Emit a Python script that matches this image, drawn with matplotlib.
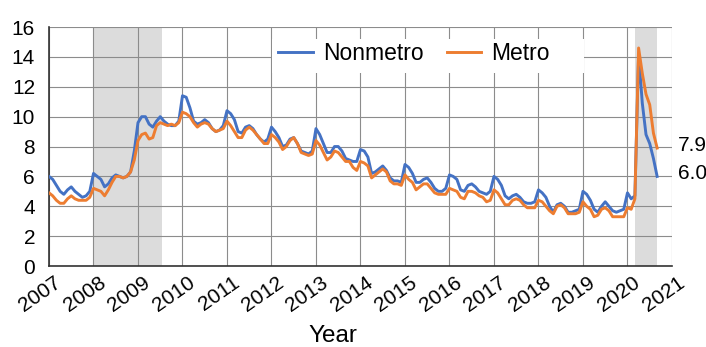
import numpy as np
import matplotlib.pyplot as plt
import matplotlib.transforms as mtransforms
from matplotlib.patches import Rectangle

plt.rcParams['font.family'] = ['Liberation Sans', 'DejaVu Sans']

# Monthly unemployment rates (%), Jan 2007 - Sep 2020
nonmetro = [
    6.0, 5.8, 5.4, 5.0, 4.8, 5.1, 5.3, 5.0, 4.8, 4.6, 4.7, 5.0,   # 2007
    6.2, 6.0, 5.8, 5.3, 5.5, 5.9, 6.1, 6.0, 5.9, 6.0, 6.3, 7.7,   # 2008
    9.6, 10.0, 10.0, 9.5, 9.3, 9.7, 10.0, 9.7, 9.5, 9.4, 9.4, 9.7,  # 2009
    11.4, 11.3, 10.6, 9.7, 9.5, 9.6, 9.8, 9.6, 9.2, 9.0, 9.1, 9.4,  # 2010
    10.4, 10.2, 9.8, 9.0, 8.9, 9.3, 9.4, 9.2, 8.8, 8.5, 8.3, 8.5,  # 2011
    9.3, 9.0, 8.6, 8.0, 8.1, 8.5, 8.6, 8.2, 7.7, 7.6, 7.5, 7.7,   # 2012
    9.2, 8.8, 8.2, 7.6, 7.6, 8.0, 8.0, 7.7, 7.2, 7.1, 7.0, 7.0,   # 2013
    7.8, 7.7, 7.3, 6.2, 6.3, 6.5, 6.7, 6.4, 5.9, 5.7, 5.7, 5.6,   # 2014
    6.8, 6.6, 6.2, 5.6, 5.6, 5.8, 5.9, 5.6, 5.2, 5.0, 5.0, 5.2,   # 2015
    6.1, 6.0, 5.8, 5.1, 5.0, 5.4, 5.5, 5.3, 5.0, 4.9, 4.8, 5.0,   # 2016
    6.0, 5.8, 5.4, 4.7, 4.5, 4.7, 4.8, 4.6, 4.3, 4.2, 4.2, 4.3,   # 2017
    5.1, 4.9, 4.6, 4.0, 3.6, 4.1, 4.2, 4.0, 3.6, 3.6, 3.7, 3.8,   # 2018
    5.0, 4.8, 4.4, 3.8, 3.6, 4.0, 4.3, 4.0, 3.7, 3.6, 3.7, 3.8,   # 2019
    4.9, 4.5, 4.7, 14.2, 10.9, 8.8, 8.2, 7.2, 6.0,                # 2020
]
metro = [
    4.9, 4.7, 4.4, 4.2, 4.2, 4.5, 4.7, 4.5, 4.4, 4.4, 4.4, 4.6,   # 2007
    5.2, 5.1, 5.0, 4.7, 5.1, 5.6, 6.0, 6.0, 5.9, 6.0, 6.3, 7.1,   # 2008
    8.4, 8.8, 8.9, 8.5, 8.6, 9.4, 9.6, 9.5, 9.4, 9.5, 9.4, 9.6,   # 2009
    10.3, 10.2, 10.0, 9.6, 9.3, 9.5, 9.6, 9.5, 9.2, 9.0, 9.1, 9.2,  # 2010
    9.7, 9.4, 9.0, 8.6, 8.6, 9.1, 9.3, 9.1, 8.8, 8.5, 8.2, 8.2,   # 2011
    8.8, 8.6, 8.3, 7.8, 8.0, 8.4, 8.6, 8.2, 7.6, 7.5, 7.4, 7.5,   # 2012
    8.4, 8.1, 7.6, 7.1, 7.3, 7.7, 7.6, 7.3, 7.0, 7.0, 6.6, 6.4,   # 2013
    7.0, 6.9, 6.7, 5.9, 6.1, 6.3, 6.5, 6.3, 5.7, 5.5, 5.5, 5.4,   # 2014
    6.1, 5.8, 5.6, 5.1, 5.3, 5.5, 5.5, 5.2, 4.9, 4.8, 4.8, 4.8,   # 2015
    5.2, 5.1, 5.0, 4.6, 4.5, 5.0, 5.0, 4.9, 4.7, 4.6, 4.3, 4.4,   # 2016
    5.1, 4.9, 4.5, 4.1, 4.1, 4.4, 4.5, 4.4, 4.1, 3.9, 3.9, 3.9,   # 2017
    4.4, 4.3, 4.0, 3.7, 3.5, 4.0, 4.1, 3.9, 3.5, 3.5, 3.5, 3.6,   # 2018
    4.3, 4.0, 3.8, 3.3, 3.4, 3.8, 3.9, 3.7, 3.3, 3.3, 3.3, 3.3,   # 2019
    3.9, 3.8, 4.5, 14.6, 12.9, 11.5, 10.8, 8.9, 7.9,              # 2020
]
recessions = [(2008.0, 2009.54), (2020.17, 2020.667)]
years = list(range(2007, 2022))

t = 2007 + np.arange(len(nonmetro)) / 12.0

fig = plt.figure(figsize=(7.06, 3.47), dpi=100)
ax = fig.add_axes([0.0694, 0.2334, 0.8824, 0.6886])

for start, end in recessions:
    ax.axvspan(start, end, color='#dcdcdc', lw=0, zorder=0)

ax.plot(t, nonmetro, color='#4472C4', lw=2.1, label='Nonmetro', zorder=3)
ax.plot(t, metro, color='#ED7D31', lw=2.1, label='Metro', zorder=3)

ax.set_xlim(2007, 2021)
ax.set_ylim(0, 16)
ax.set_xticks(years)
ax.set_yticks(range(0, 17, 2))
ax.grid(True, color='#8c8c8c', lw=0.8, zorder=1)
ax.set_axisbelow(True)
for s in ['top', 'right']:
    ax.spines[s].set_visible(False)
for s in ['left', 'bottom']:
    ax.spines[s].set_color('#333333')
    ax.spines[s].set_linewidth(1.2)

ax.tick_params(axis='both', length=0, labelsize=15)
ax.tick_params(axis='y', pad=10)
ax.tick_params(axis='x', pad=5)
shift = mtransforms.ScaledTranslation(5 / 100, 0, fig.dpi_scale_trans)
for lab in ax.get_xticklabels():
    lab.set_rotation(35)
    lab.set_ha('right')
    lab.set_va('top')
    lab.set_rotation_mode('anchor')
    lab.set_transform(lab.get_transform() + shift)

fig.text(333 / 706, 0.5 / 347, 'Year', fontsize=17.5, ha='center', va='bottom')

for val in (metro[-1], nonmetro[-1]):
    ax.text(1.01, val + 0.2, f'{val:.1f}', transform=ax.get_yaxis_transform(),
            fontsize=15, va='center', ha='left', clip_on=False)

# white box behind legend (hides grid like the original)
ax.add_patch(Rectangle((0.358, 0.808), 0.501, 0.142, transform=ax.transAxes,
                       facecolor='white', edgecolor='none', zorder=2))
leg = ax.legend(loc='center', bbox_to_anchor=(0.586, 0.891), ncol=2,
                fontsize=16.5, handlelength=1.5, handletextpad=0.45,
                columnspacing=1.0, frameon=False, borderpad=0.3)

fig.savefig('out.png', dpi=100)
